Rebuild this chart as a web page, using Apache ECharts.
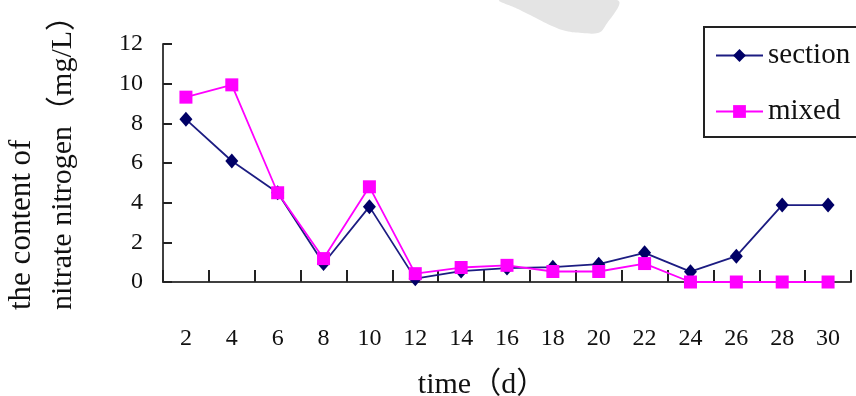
<!DOCTYPE html>
<html>
<head>
<meta charset="utf-8">
<script src="https://cdn.jsdelivr.net/npm/echarts@6/dist/echarts.min.js"></script>
<style>
  html, body { margin: 0; padding: 0; background: #ffffff; }
  #chart { width: 856px; height: 396px; }
</style>
</head>
<body>
<div id="chart"></div>
<script>
// Sampling days (d)
const days = ['2', '4', '6', '8', '10', '12', '14', '16', '18', '20', '22', '24', '26', '28', '30'];
// Nitrate nitrogen content (mg/L)
const sectionValues = [8.2, 6.1, 4.5, 0.93, 3.8, 0.17, 0.55, 0.7, 0.75, 0.9, 1.47, 0.52, 1.3, 3.88, 3.88];
const mixedValues = [9.32, 9.94, 4.5, 1.18, 4.8, 0.42, 0.73, 0.84, 0.53, 0.53, 0.93, 0, 0, 0, 0];
// Value axis range
const yMin = 0, yMax = 12, yStep = 2;

const serif = '"Liberation Serif", "Times New Roman", "Noto Sans CJK SC", serif';

const chart = echarts.init(document.getElementById('chart'), null, { renderer: 'canvas' });

chart.setOption({
  backgroundColor: '#ffffff',
  animation: false,
  textStyle: { fontFamily: serif },
  grid: { left: 163, right: 5, top: 44, bottom: 114, containLabel: false },
  graphic: [
    {
      type: 'polygon',
      z: -10,
      silent: true,
      shape: {
        points: [[500, 0], [518, 9], [536, 18], [552, 26], [566, 31], [582, 33], [598, 33], [604, 28], [617, 0]],
        smooth: 0.4
      },
      style: { fill: '#e4e4e4' }
    },
    {
      type: 'text',
      x: 22, y: 310, rotation: Math.PI / 2,
      style: { text: 'the content of', font: '31px ' + serif, fill: '#111', textAlign: 'left', textVerticalAlign: 'middle' }
    },
    {
      type: 'text',
      x: 63, y: 310, rotation: Math.PI / 2,
      style: { text: 'nitrate nitrogen（mg/L）', font: '30px ' + serif, fill: '#111', textAlign: 'left', textVerticalAlign: 'middle' }
    },
    {
      type: 'text',
      x: 482, y: 385,
      style: { text: 'time（d）', font: '30px ' + serif, fill: '#111', textAlign: 'center', textVerticalAlign: 'middle' }
    }
  ],
  legend: {
    orient: 'vertical',
    left: 704,
    top: 27,
    padding: [14, 40, 11, 11],
    itemGap: 27,
    itemWidth: 47,
    itemHeight: 16,
    borderColor: '#222',
    borderWidth: 2,
    borderRadius: 0,
    textStyle: { fontFamily: serif, fontSize: 29, color: '#111', lineHeight: 28 },
    data: ['section', 'mixed']
  },
  xAxis: {
    type: 'category',
    data: days,
    boundaryGap: true,
    axisLine: { lineStyle: { color: '#404040', width: 2 } },
    axisTick: { show: true, inside: true, length: 12, alignWithLabel: false, lineStyle: { color: '#222', width: 2 } },
    axisLabel: { color: '#111', fontSize: 24, fontFamily: serif, margin: 45, interval: 0 },
    splitLine: { show: false }
  },
  yAxis: {
    type: 'value',
    min: yMin,
    max: yMax,
    interval: yStep,
    axisLine: { show: true, lineStyle: { color: '#404040', width: 2 } },
    axisTick: { show: true, inside: true, length: 9, lineStyle: { color: '#222', width: 2 } },
    axisLabel: { color: '#111', fontSize: 24, fontFamily: serif, margin: 20 },
    splitLine: { show: false }
  },
  series: [
    {
      name: 'section',
      type: 'line',
      data: sectionValues,
      symbol: 'diamond',
      symbolSize: [13, 15],
      lineStyle: { color: '#1c1c82', width: 1.8 },
      itemStyle: { color: '#000066', borderWidth: 0 },
      z: 2
    },
    {
      name: 'mixed',
      type: 'line',
      data: mixedValues,
      symbol: 'rect',
      symbolSize: 13,
      lineStyle: { color: '#ff00ff', width: 1.8 },
      itemStyle: { color: '#ff00ff', borderWidth: 0 },
      z: 3
    }
  ]
});
</script>
</body>
</html>
